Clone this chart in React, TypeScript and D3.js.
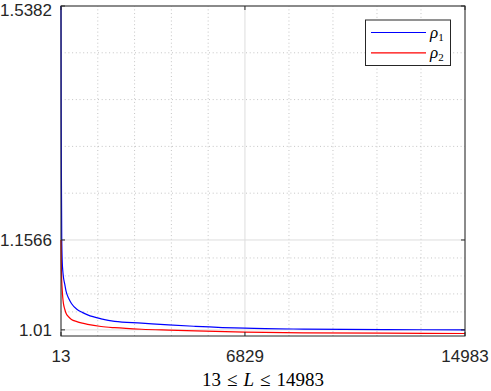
import React from 'react';
import * as d3 from 'd3';

// values
const lengths = [13, 20, 30, 40, 60, 80, 100, 150, 200, 300, 400, 600, 800, 1000, 1500, 2000, 3000, 4000, 5000, 6829, 9000, 12000, 14983];
const rho1 = [1.5382, 1.36, 1.24, 1.16, 1.12, 1.106, 1.097, 1.085, 1.073, 1.061, 1.053, 1.0435, 1.0385, 1.0345, 1.028, 1.0238, 1.021, 1.018, 1.0158, 1.0127, 1.0112, 1.0104, 1.01];
const rho2 = [1.1566, 1.125, 1.103, 1.09, 1.074, 1.062, 1.054, 1.044, 1.037, 1.031, 1.027, 1.0235, 1.021, 1.019, 1.0155, 1.0135, 1.011, 1.0095, 1.0082, 1.0064, 1.0052, 1.0046, 1.0041];

const xTicks = [13, 6829, 14983];
const yTicks = [1.01, 1.1566, 1.5382];
const yTickLabels = ['1.01', '1.1566', '1.5382'];
const seriesNames = ['1', '2'];
const seriesColors = ['#0000ff', '#ff0000'];

const W = 491;
const H = 391;
const margin = { top: 6, right: 26, bottom: 55, left: 61 };
const axisColor = '#262626';

// minor grid: each major interval cut into 5 parts
const minorBetween = (ticks: number[]) => {
  const out: number[] = [];
  for (let i = 0; i < ticks.length - 1; i++) {
    const step = (ticks[i + 1] - ticks[i]) / 5;
    for (let k = 1; k < 5; k++) out.push(ticks[i] + k * step);
  }
  return out;
};

const App = () => {
  const x = d3.scaleLinear().domain([13, 14983]).range([margin.left, W - margin.right]);
  const y = d3.scaleLinear().domain([1.0, 1.5382]).range([H - margin.bottom, margin.top]);

  const [x0, x1] = x.range();
  const [y0, y1] = y.range();

  const line = d3.line<[number, number]>()
    .x(d => x(d[0]))
    .y(d => y(d[1]))
    .curve(d3.curveMonotoneX);

  const series = [rho1, rho2].map(vals => lengths.map((l, i) => [l, vals[i]] as [number, number]));

  const xMinor = minorBetween(xTicks);
  const yMinor = minorBetween(yTicks);
  const tickLen = 4;
  const serif = "'Liberation Serif', 'Times New Roman', serif";

  return (
    <svg width={W} height={H} style={{ position: 'absolute', left: 0, top: 0, background: '#fff' }}
      fontFamily="'Liberation Sans', Arial, sans-serif">
      <rect x={x0} y={y1} width={x1 - x0} height={y0 - y1} fill="#fff" />

      {/* minor grid */}
      {xMinor.map(v => (
        <line key={'xm' + v} x1={x(v)} x2={x(v)} y1={y0} y2={y1} stroke="#c4c4c4" strokeWidth={1} strokeDasharray="1,2.7" />
      ))}
      {yMinor.map(v => (
        <line key={'ym' + v} x1={x0} x2={x1} y1={y(v)} y2={y(v)} stroke="#c4c4c4" strokeWidth={1} strokeDasharray="1,2.7" />
      ))}

      {/* major grid */}
      {xTicks.map(v => (
        <line key={'xg' + v} x1={x(v)} x2={x(v)} y1={y0} y2={y1} stroke="#dedede" strokeWidth={1} />
      ))}
      {yTicks.map(v => (
        <line key={'yg' + v} x1={x0} x2={x1} y1={y(v)} y2={y(v)} stroke="#dedede" strokeWidth={1} />
      ))}

      {/* curves */}
      {series.map((s, i) => (
        <path key={'s' + i} d={line(s) ?? ''} fill="none" stroke={seriesColors[i]} strokeWidth={1.2} />
      ))}

      {/* box */}
      <rect x={x0} y={y1} width={x1 - x0} height={y0 - y1} fill="none" stroke={axisColor} strokeWidth={1} />

      {/* ticks on all sides */}
      {xTicks.map(v => (
        <g key={'xt' + v} stroke={axisColor} strokeWidth={1}>
          <line x1={x(v)} x2={x(v)} y1={y0} y2={y0 - tickLen} />
          <line x1={x(v)} x2={x(v)} y1={y1} y2={y1 + tickLen} />
        </g>
      ))}
      {yTicks.map(v => (
        <g key={'yt' + v} stroke={axisColor} strokeWidth={1}>
          <line x1={x0} x2={x0 + tickLen} y1={y(v)} y2={y(v)} />
          <line x1={x1} x2={x1 - tickLen} y1={y(v)} y2={y(v)} />
        </g>
      ))}

      {/* tick labels */}
      {xTicks.map(v => (
        <text key={'xl' + v} x={x(v)} y={y0 + 26} textAnchor="middle" fontSize={17} fill={axisColor}>{v}</text>
      ))}
      {yTicks.map((v, i) => (
        <text key={'yl' + v} x={x0 - 9} y={Math.max(y(v) + 6.5, 15.5)} textAnchor="end" fontSize={17} fill={axisColor}>{yTickLabels[i]}</text>
      ))}

      {/* x label */}
      <text x={(x0 + x1) / 2} y={386} textAnchor="middle" fontSize={19} fill="#000" fontFamily={serif}>
        <tspan>13</tspan>
        <tspan dx={6}>≤</tspan>
        <tspan dx={6} fontStyle="italic">L</tspan>
        <tspan dx={6}>≤</tspan>
        <tspan dx={6}>14983</tspan>
      </text>

      {/* legend */}
      <g>
        <rect x={365.5} y={20} width={85} height={45.5} fill="#fff" stroke={axisColor} strokeWidth={1} />
        {seriesNames.map((n, i) => (
          <g key={'lg' + n}>
            <line x1={371} x2={426} y1={32.5 + i * 20.3} y2={32.5 + i * 20.3} stroke={seriesColors[i]} strokeWidth={1.2} />
            <text x={430} y={37.5 + i * 20.3} fontSize={17} fill="#000" fontFamily={serif}>
              <tspan fontStyle="italic">ρ</tspan>
              <tspan fontSize={11} dy={3}>{n}</tspan>
            </text>
          </g>
        ))}
      </g>
    </svg>
  );
};

export default App;
